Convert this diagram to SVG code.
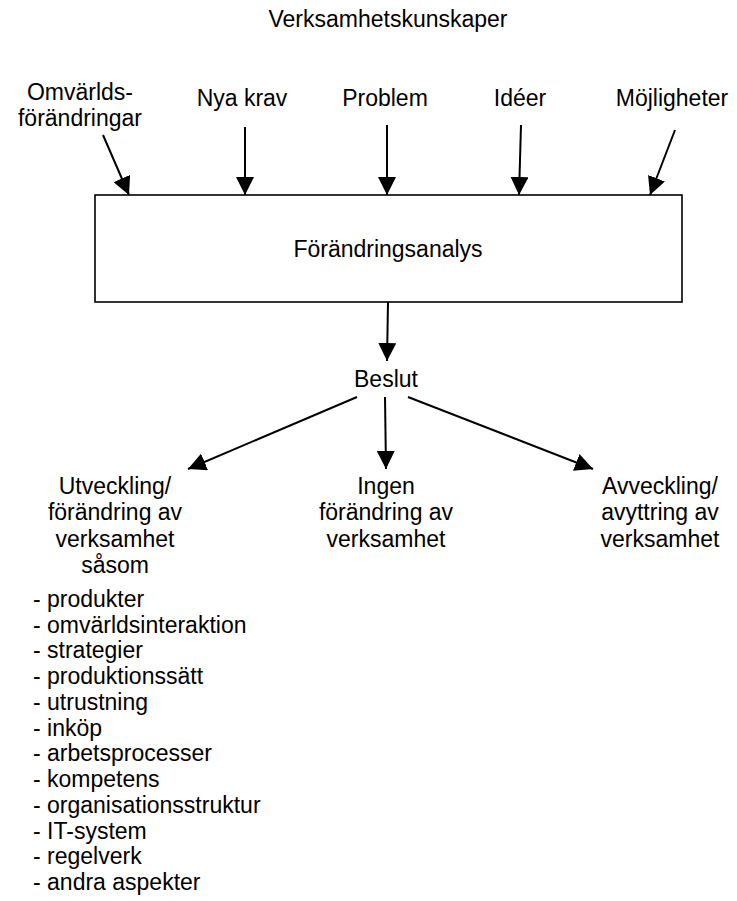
<svg xmlns="http://www.w3.org/2000/svg" width="737" height="901" viewBox="0 0 737 901">
<style>
text{font-family:"Liberation Sans",Arial,sans-serif;font-size:23px;fill:#000}
.c{text-anchor:middle}
.box{fill:#fff;stroke:#000;stroke-width:1.6}
.ln{stroke:#000;stroke-width:2;fill:none;marker-end:url(#ah)}
</style>
<defs>
<marker id="ah" markerUnits="userSpaceOnUse" markerWidth="18" markerHeight="18" refX="17" refY="8.5" orient="auto" viewBox="0 0 17 17">
<path d="M0,0 L17,8.5 L0,17 z" fill="#000"/>
</marker>
</defs>
<g id="title"><text class="c" x="388" y="27">Verksamhetskunskaper</text></g>
<g id="omvarld"><text class="c" x="80" y="100">Omvärlds-</text><text class="c" x="80" y="126">förändringar</text></g>
<g id="nyakrav"><text class="c" x="242" y="106">Nya krav</text></g>
<g id="problem"><text class="c" x="385" y="106">Problem</text></g>
<g id="ideer"><text class="c" x="520" y="106">Idéer</text></g>
<g id="mojligheter"><text class="c" x="672" y="106">Möjligheter</text></g>
<g id="analys"><rect class="box" x="95" y="195" width="587" height="107"/><text class="c" x="388" y="257">Förändringsanalys</text></g>
<g id="beslut"><text class="c" x="386" y="387">Beslut</text></g>
<g id="utveckling"><text class="c" x="115" y="494">Utveckling/</text><text class="c" x="115" y="520">förändring av</text><text class="c" x="115" y="547">verksamhet</text><text class="c" x="115" y="573">såsom</text></g>
<g id="ingen"><text class="c" x="386" y="494">Ingen</text><text class="c" x="386" y="520">förändring av</text><text class="c" x="386" y="547">verksamhet</text></g>
<g id="avveckling"><text class="c" x="660" y="494">Avveckling/</text><text class="c" x="660" y="520">avyttring av</text><text class="c" x="660" y="547">verksamhet</text></g>
<g id="lista">
<text x="33" y="607">- produkter</text>
<text x="33" y="633">- omvärldsinteraktion</text>
<text x="33" y="658">- strategier</text>
<text x="33" y="684">- produktionssätt</text>
<text x="33" y="710">- utrustning</text>
<text x="33" y="736">- inköp</text>
<text x="33" y="761">- arbetsprocesser</text>
<text x="33" y="787">- kompetens</text>
<text x="33" y="813">- organisationsstruktur</text>
<text x="33" y="839">- IT-system</text>
<text x="33" y="864">- regelverk</text>
<text x="33" y="890">- andra aspekter</text>
</g>
<g id="connectors">
<line class="ln" x1="103" y1="135" x2="129" y2="195"/>
<line class="ln" x1="245" y1="127" x2="245" y2="195"/>
<line class="ln" x1="387" y1="125" x2="387" y2="195"/>
<line class="ln" x1="521" y1="125" x2="519" y2="195"/>
<line class="ln" x1="675" y1="130" x2="650" y2="195"/>
<line class="ln" x1="388" y1="302" x2="387" y2="361"/>
<line class="ln" x1="357" y1="397" x2="188" y2="469"/>
<line class="ln" x1="385" y1="397" x2="386" y2="469"/>
<line class="ln" x1="408" y1="397" x2="593" y2="469"/>
</g>
</svg>
